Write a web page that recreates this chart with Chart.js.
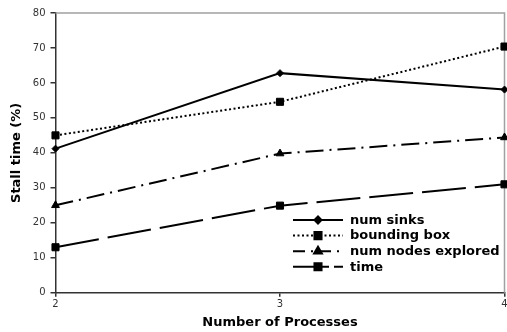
<!DOCTYPE html>
<html>
<head>
<meta charset="utf-8">
<script src="https://cdn.jsdelivr.net/npm/chart.js@4"></script>
<style>
  html, body { margin: 0; padding: 0; background: #fff; }
  #wrap { width: 507px; height: 332px; }
</style>
</head>
<body>
<div id="wrap"><canvas id="myChart"></canvas></div>
<script>
// data
var processes = [2, 3, 4];
var numSinks = [41.2, 62.8, 58.1];
var boundingBox = [45, 54.6, 70.4];
var numNodesExplored = [25, 39.8, 44.4];
var timeVals = [13, 24.9, 31];
var seriesNames = ["num sinks", "bounding box", "num nodes explored", "time"];
var yTicks = [0, 10, 20, 30, 40, 50, 60, 70, 80];

function pts(vals) {
  return vals.map(function (v, i) { return { x: processes[i], y: v }; });
}

var styles = [
  { dash: [], point: "rectRot", radius: 3.5 },
  { dash: [2, 2.5], point: "rect", radius: 5 },
  { dash: [18, 6, 2, 6], point: "triangle", radius: 4.5 },
  { dash: [44, 9], point: "rect", radius: 5 },
];
var allVals = [numSinks, boundingBox, numNodesExplored, timeVals];

var datasets = allVals.map(function (vals, i) {
  return {
    label: seriesNames[i],
    data: pts(vals),
    borderColor: "#000",
    backgroundColor: "#000",
    borderWidth: 2,
    borderDash: styles[i].dash,
    pointStyle: styles[i].point,
    pointRadius: styles[i].radius,
    pointBorderWidth: 1,
    tension: 0,
    clip: false,
  };
});

// gray top/right frame
var framePlugin = {
  id: "frame",
  beforeDatasetsDraw: function (chart) {
    var a = chart.chartArea, ctx = chart.ctx;
    ctx.save();
    ctx.strokeStyle = "#a0a0a0";
    ctx.lineWidth = 1.5;
    ctx.beginPath();
    ctx.moveTo(a.left, a.top);
    ctx.lineTo(a.right, a.top);
    ctx.lineTo(a.right, a.bottom);
    ctx.stroke();
    ctx.restore();
  },
};

// legend with line samples
var legendDash = [[], [2, 2.5], [12, 6, 2, 6], [36, 5, 9, 100]];
var legendPlugin = {
  id: "lineLegend",
  afterDraw: function (chart) {
    var ctx = chart.ctx;
    var x0 = 293, x1 = 343, tx = 350, y = 220;
    ctx.save();
    ctx.font = "bold 13px 'DejaVu Sans'";
    ctx.textBaseline = "middle";
    datasets.forEach(function (ds, i) {
      var yy = y + i * 15.6;
      ctx.strokeStyle = "#000";
      ctx.lineWidth = 2;
      ctx.setLineDash(legendDash[i]);
      ctx.beginPath();
      ctx.moveTo(x0, yy);
      ctx.lineTo(x1, yy);
      ctx.stroke();
      ctx.setLineDash([]);
      ctx.fillStyle = "#000";
      Chart.helpers.drawPoint(ctx, {
        pointStyle: ds.pointStyle,
        radius: ds.pointRadius,
        borderWidth: 1,
        rotation: 0,
      }, (x0 + x1) / 2, yy);
      ctx.fillStyle = "#000";
      ctx.fillText(ds.label, tx, yy + 0.5);
    });
    ctx.restore();
  },
};

var config = {
  type: "line",
  data: { datasets: datasets },
  options: {
    responsive: true,
    maintainAspectRatio: false,
    animation: false,
    layout: { autoPadding: false, padding: { top: 13, right: 2.5, left: 0, bottom: 0 } },
    plugins: {
      legend: { display: false },
      tooltip: { enabled: false },
    },
    scales: {
      x: {
        type: "linear",
        min: 2,
        max: 4,
        afterBuildTicks: function (scale) {
          scale.ticks = processes.map(function (v) { return { value: v }; });
        },
        afterFit: function (scale) {
          scale.height = 39.3;
          scale.paddingLeft = 0;
          scale.paddingRight = 0;
        },
        grid: { drawOnChartArea: false, tickLength: 4, tickColor: "#333", lineWidth: 1.5 },
        border: { color: "#333", width: 1.5 },
        ticks: {
          color: "#333",
          padding: 2,
          maxRotation: 0,
          font: { family: "'DejaVu Sans'", size: 10 },
        },
        title: {
          display: true,
          text: "Number of Processes",
          color: "#000",
          padding: { top: 2, bottom: 2 },
          font: { family: "'DejaVu Sans'", size: 13, weight: "bold" },
        },
      },
      y: {
        min: 0,
        max: 80,
        afterBuildTicks: function (scale) {
          scale.ticks = yTicks.map(function (v) { return { value: v }; });
        },
        afterFit: function (scale) {
          scale.width = 55.5;
          scale.paddingTop = 0;
          scale.paddingBottom = 0;
        },
        grid: { drawOnChartArea: false, tickLength: 5, tickColor: "#333", lineWidth: 1.5 },
        border: { color: "#333", width: 1.5 },
        ticks: {
          color: "#333",
          padding: 5,
          font: { family: "'DejaVu Sans'", size: 10 },
        },
        title: {
          display: true,
          text: "Stall time (%)",
          color: "#000",
          padding: { top: 9, bottom: 0 },
          font: { family: "'DejaVu Sans'", size: 13, weight: "bold" },
        },
      },
    },
  },
  plugins: [framePlugin, legendPlugin],
};

const myChart = new Chart(document.getElementById("myChart"), config);
</script>
</body>
</html>
